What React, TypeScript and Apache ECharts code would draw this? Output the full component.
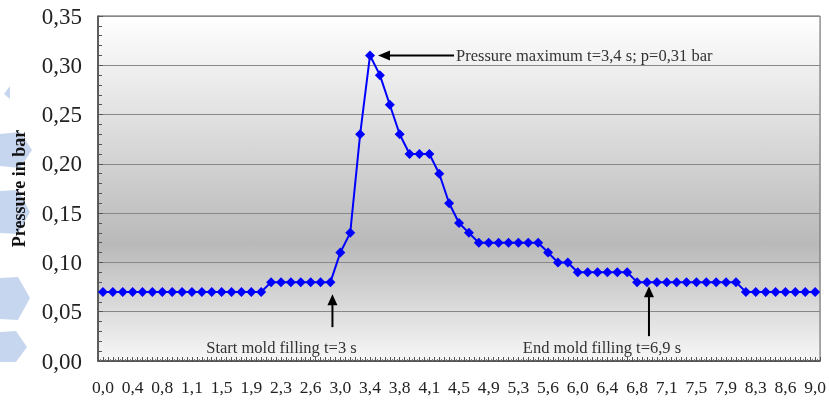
import React, { useEffect, useRef } from "react";
import * as echarts from "echarts";

const times: number[] = [
  0, 0.125, 0.25, 0.375, 0.5, 0.625, 0.75, 0.875, 1, 1.125, 1.25, 1.375, 1.5, 1.625, 1.75, 1.875,
  2, 2.125, 2.25, 2.375, 2.5, 2.625, 2.75, 2.875, 3, 3.125, 3.25, 3.375, 3.5, 3.625, 3.75, 3.875,
  4, 4.125, 4.25, 4.375, 4.5, 4.625, 4.75, 4.875, 5, 5.125, 5.25, 5.375, 5.5, 5.625, 5.75, 5.875,
  6, 6.125, 6.25, 6.375, 6.5, 6.625, 6.75, 6.875, 7, 7.125, 7.25, 7.375, 7.5, 7.625, 7.75, 7.875,
  8, 8.125, 8.25, 8.375, 8.5, 8.625, 8.75, 8.875, 9,
];

const pressure: number[] = [
  0.07, 0.07, 0.07, 0.07, 0.07, 0.07, 0.07, 0.07, 0.07, 0.07, 0.07, 0.07, 0.07, 0.07, 0.07, 0.07, 0.07,
  0.08, 0.08, 0.08, 0.08, 0.08, 0.08, 0.08,
  0.11, 0.13, 0.23, 0.31, 0.29, 0.26, 0.23, 0.21, 0.21, 0.21, 0.19, 0.16, 0.14, 0.13,
  0.12, 0.12, 0.12, 0.12, 0.12, 0.12, 0.12,
  0.11, 0.1, 0.1,
  0.09, 0.09, 0.09, 0.09, 0.09, 0.09,
  0.08, 0.08, 0.08, 0.08, 0.08, 0.08, 0.08, 0.08, 0.08, 0.08, 0.08,
  0.07, 0.07, 0.07, 0.07, 0.07, 0.07, 0.07, 0.07,
];

const yTicks = { min: 0, max: 0.35, interval: 0.05 };
const yAxisTitle = "Pressure in bar";
const peakIndex = 27;
const startIndex = 23;
const endIndex = 55;
const peakText = "Pressure maximum t=3,4 s; p=0,31 bar";
const startText = "Start mold filling t=3 s";
const endText = "End mold filling t=6,9 s";

const FONT = "'Liberation Serif', 'Times New Roman', serif";
const comma = (s: string) => s.replace(".", ",");

export default function App() {
  const ref = useRef<HTMLDivElement>(null);
  useEffect(() => {
    if (!ref.current) return;
    const chart = echarts.init(ref.current, null, { renderer: "svg" });
    const categories = times.map((t) => comma(t.toFixed(1)));
    chart.setOption({
      animation: false,
      grid: {
        left: 98,
        right: 1,
        top: 16,
        bottom: 44,
        show: true,
        borderColor: "#5a5a5a",
        borderWidth: 1,
        backgroundColor: new echarts.graphic.LinearGradient(0, 0, 0, 1, [
          { offset: 0, color: "#ffffff" },
          { offset: 0.3, color: "#e0e0e0" },
          { offset: 0.66, color: "#b9b9b9" },
          { offset: 1, color: "#f7f7f7" },
        ]),
      },
      xAxis: [
        {
          type: "category",
          data: categories,
          boundaryGap: true,
          axisLine: { lineStyle: { color: "#444", width: 1.5 } },
          axisTick: { show: false },
          axisLabel: {
            interval: 2,
            fontFamily: FONT,
            fontSize: 17.5,
            color: "#222",
            margin: 17,
          },
          splitLine: { show: false },
        },
        {
          type: "value",
          position: "bottom",
          min: 0,
          max: 146,
          interval: 1,
          axisLine: { show: false },
          axisLabel: { show: false },
          splitLine: { show: false },
          axisTick: { show: true, inside: true, length: 4, lineStyle: { color: "#555" } },
          minorTick: { show: true, splitNumber: 2, length: 2, lineStyle: { color: "#777" } },
        },
      ],
      yAxis: {
        type: "value",
        min: yTicks.min,
        max: yTicks.max,
        interval: yTicks.interval,
        name: yAxisTitle,
        nameLocation: "middle",
        nameGap: 70,
        nameRotate: 90,
        nameTextStyle: { fontFamily: FONT, fontSize: 18, fontWeight: "bold", color: "#111" },
        axisLine: { show: true, lineStyle: { color: "#444", width: 1.5 } },
        axisTick: { show: true, inside: true, length: 5, lineStyle: { color: "#555" } },
        minorTick: { show: true, splitNumber: 5, length: 4, lineStyle: { color: "#555" } },
        axisLabel: {
          fontFamily: FONT,
          fontSize: 23,
          color: "#222",
          margin: 16,
          formatter: (v: number) => comma(v.toFixed(2)),
        },
        splitLine: { show: true, lineStyle: { color: "#888", width: 1 } },
      },
      series: [
        {
          type: "line",
          data: pressure,
          xAxisIndex: 0,
          symbol: "diamond",
          symbolSize: 10,
          showAllSymbol: true,
          lineStyle: { color: "#0000ff", width: 2 },
          itemStyle: { color: "#0000ff" },
        },
      ],
    });

    const pt = (i: number) => chart.convertToPixel({ seriesIndex: 0 }, [i, pressure[i]]) as number[];
    const peak = pt(peakIndex);
    const st = pt(startIndex);
    const en = pt(endIndex);
    const deco = "#c7d6ef";
    const textStyle = { fontFamily: FONT, fontSize: 16.5, fill: "#333" };
    const upArrow = (x: number, yTip: number, yTail: number) => [
      { type: "line", shape: { x1: x, y1: yTip + 8, x2: x, y2: yTail }, style: { stroke: "#000", lineWidth: 2 } },
      { type: "polygon", shape: { points: [[x, yTip], [x - 5, yTip + 11], [x + 5, yTip + 11]] }, style: { fill: "#000" } },
    ];
    chart.setOption({
      graphic: [
        { type: "polygon", shape: { points: [[4, 94], [10, 86], [10, 99]] }, style: { fill: deco } },
        { type: "polygon", shape: { points: [[0, 134], [20, 132], [32, 150], [20, 168], [0, 166]] }, style: { fill: deco } },
        { type: "polygon", shape: { points: [[0, 191], [18, 190], [30, 212], [18, 234], [0, 233]] }, style: { fill: deco } },
        { type: "polygon", shape: { points: [[0, 278], [18, 277], [30, 298], [18, 320], [0, 319]] }, style: { fill: deco } },
        { type: "polygon", shape: { points: [[0, 332], [16, 331], [27, 347], [16, 362], [0, 362]] }, style: { fill: deco } },
        { type: "line", shape: { x1: peak[0] + 16, y1: peak[1], x2: peak[0] + 84, y2: peak[1] }, style: { stroke: "#000", lineWidth: 2 } },
        { type: "polygon", shape: { points: [[peak[0] + 8, peak[1]], [peak[0] + 20, peak[1] - 5], [peak[0] + 20, peak[1] + 5]] }, style: { fill: "#000" } },
        { type: "text", x: peak[0] + 86, y: peak[1], style: { ...textStyle, text: peakText, verticalAlign: "middle", align: "left" } },
        ...upArrow(st[0] + 2, st[1] + 12, st[1] + 45),
        { type: "text", x: st[0] - 49, y: 347, style: { ...textStyle, text: startText, verticalAlign: "middle", align: "center" } },
        ...upArrow(en[0] + 2, en[1] + 4, en[1] + 54),
        { type: "text", x: en[0] - 45, y: 347, style: { ...textStyle, text: endText, verticalAlign: "middle", align: "center" } },
      ],
    });
    return () => chart.dispose();
  }, []);
  return <div ref={ref} style={{ position: "fixed", left: 0, top: 0, width: 829, height: 405 }} />;
}
